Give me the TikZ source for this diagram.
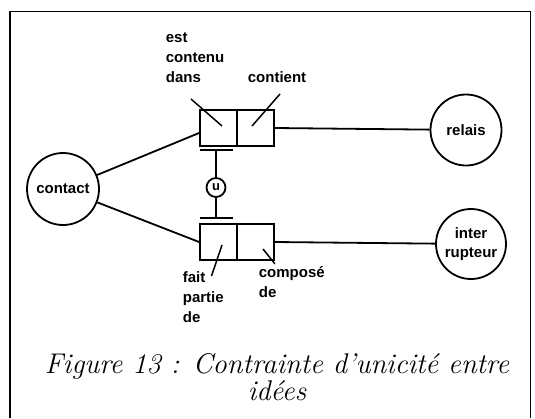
\documentclass[tikz,border=0pt]{standalone}
\usepackage{fontspec}
\usepackage{tikz}
\usetikzlibrary{positioning,calc}
\newfontfamily\lblfont{Liberation Sans}

\begin{document}
\begin{tikzpicture}[x=1pt, y=-1pt, line width=1.8pt,
	idee/.style = {draw, circle, inner sep=0pt, font=\lblfont\bfseries\fontsize{15}{17}\selectfont, align=center},
	rolebox/.style = {draw, rectangle, minimum width=37pt, minimum height=36pt, inner sep=0pt},
	rolename/.style = {inner sep=0pt, align=left, font=\lblfont\bfseries\fontsize{15}{20}\selectfont}]
		\useasboundingbox (0,0) rectangle (535,418);
		\draw[line width=1.5pt] (10,418) -- (10,11.5) -- (530.5,11.5) -- (530.5,418);
		% objets
		\node[idee, minimum size=72pt] (contact) at (63,189) {contact};
		\node[idee, minimum size=71pt] (relais) at (466,130) {relais};
		\node[idee, minimum size=70pt, font=\lblfont\bfseries\fontsize{15}{19}\selectfont] (inter) at (471,244) {inter\\rupteur};
		% roles
		\node[rolebox] (estdans) at (218.5,128) {};
		\node[rolebox] (contient) at (255.5,128) {};
		\node[rolebox] (faitpartie) at (218.5,242) {};
		\node[rolebox] (compose) at (255.5,242) {};
		\draw (contact) -- ([yshift=-5pt]estdans.west);
		\draw (contact) -- (faitpartie.west);
		\draw (contient.east) -- (relais);
		\draw (compose.east) -- (inter);
		% contrainte d'unicite
		\coordinate (barA) at (200,150);
		\coordinate (barB) at (200,218);
		\node[draw, circle, minimum size=19pt, inner sep=0pt, font=\lblfont\bfseries\fontsize{13}{13}\selectfont] (uniq) at (216,187.5) {u};
		\draw (barA) -- ++(33,0);
		\draw (barB) -- ++(33,0);
		\draw (uniq) -- (uniq |- barA);
		\draw (uniq) -- (uniq |- barB);
		% noms des roles
		\node[rolename, anchor=base west] (lblestdans) at (165,82) {est\\contenu\\dans};
		\node[rolename, anchor=base west] (lblcontient) at (247,82) {contient};
		\node[rolename, anchor=base west] (lblfait) at (182,322) {fait\\partie\\de};
		\node[rolename, anchor=base west] (lblcompose) at (258,297) {composé\\de};
		\coordinate (p1) at (191,99);
		\coordinate (p2) at (280,94);
		\coordinate (p3) at (211.5,276);
		\coordinate (p4) at (263,249);
		\draw[line width=1.5pt] (p1) -- ([shift={(3.5,-2)}]estdans.center);
		\draw[line width=1.5pt] (p2) -- ([shift={(-3.5,-2)}]contient.center);
		\draw[line width=1.5pt] (p3) -- ([shift={(3.5,3)}]faitpartie.center);
		\draw[line width=1.5pt] (p4) -- ([shift={(0,3)}]compose.south east);
		% legende
		\node[align=center, inner sep=0pt, font=\itshape\fontsize{28.5}{25}\selectfont, anchor=base] (caption) at (277,400) {Figure 13 : Contrainte d'unicité entre\\idées};
	\end{tikzpicture}
\end{document}
